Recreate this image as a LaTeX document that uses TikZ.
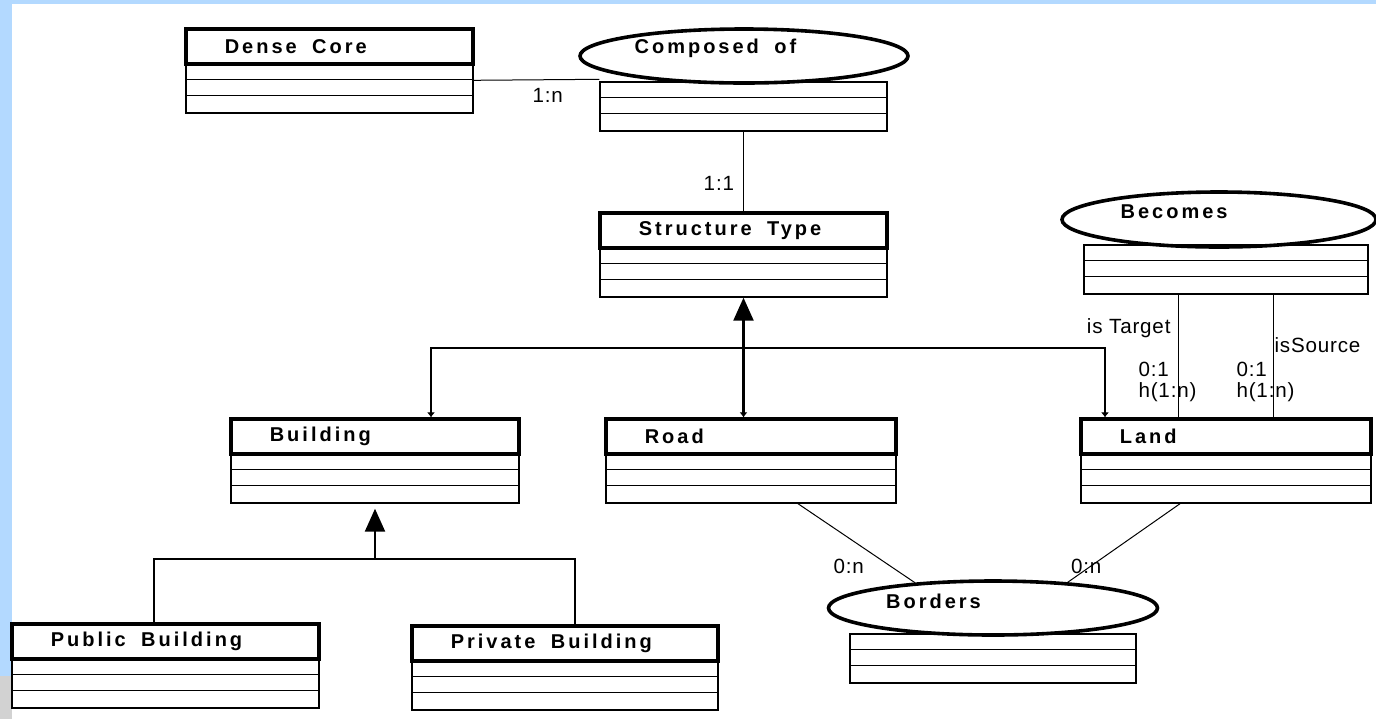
\documentclass[tikz,border=0pt]{standalone}
\usepackage{fontspec}
\setmainfont{Liberation Sans}
\newfontfamily\titlefont{Liberation Sans}[LetterSpace=15, WordSpace=1.8]
\usetikzlibrary{positioning,fit,calc,shapes.geometric,arrows.meta}
\definecolor{slideblue}{HTML}{B3D9FF}
\tikzset{headbox/.style={draw, line width=1.6pt, inner sep=0pt},
  rowbox/.style={draw, line width=0.7pt, inner sep=0pt},
  relation/.style={ellipse, draw, line width=1.8pt, inner sep=0pt},
  title/.style={font=\titlefont\bfseries\fontsize{10}{11}\selectfont, inner sep=0pt, anchor=west},
  card/.style={font=\fontsize{10.3}{10.5}\selectfont\addfontfeature{LetterSpace=4}, inner sep=0pt, align=left},
  assoc/.style={line width=0.5pt},
  isa/.style={line width=1.2pt},
  smalltip/.tip={Latex[length=2.5pt, width=4pt]},
  bigtip/.tip={Triangle[length=11.5pt, width=10pt]}}
\newcommand{\umlrows}[4]{%
  \node[rowbox, fit={(#2,#3) (#4,#3+49)}] (#1) {};
  \draw[rowbox] ([yshift=-8pt]#1.north west) -- ([yshift=-8pt]#1.north east);
  \draw[rowbox] ([yshift=-16pt]#1.north west) -- ([yshift=-16pt]#1.north east);}
\newcommand{\umlclass}[5]{%
  \node[headbox, fit={(#2,#3) (#4,#3+35)}] (#1) {};
  \node[title] (#1-title) at ([xshift=20pt]#1.west) {#5};
  \umlrows{#1-body}{#2}{#3+35}{#4}}

\begin{document}
\begin{tikzpicture}[x=0.5pt, y=-0.5pt]
    \useasboundingbox (0,0) rectangle (1376,719);
    \fill[slideblue] (0,0) rectangle (1376,719);
    \fill[gray!35] (0,676) rectangle (12,719);
    \fill[white] (12,4) rectangle (1376,719);

    \umlclass{dense}{186}{29}{473}{Dense Core}
    \umlclass{structure}{600}{213}{887}{Structure Type}
    \umlclass{building}{231}{419}{519}{Building}
    \umlclass{road}{606}{419}{896}{Road}
    \umlclass{land}{1081}{419}{1371}{Land}
    \umlclass{public}{12}{624}{319}{Public Building}
    \umlclass{private}{412}{626}{718}{Private Building}

    \node[relation, minimum width=164pt, minimum height=27pt] (composed) at (744,56) {};
    \node[title] (composed-title) at ([xshift=28pt, yshift=4pt]composed.west) {Composed of};
    \umlrows{composed-body}{600}{82}{887}
    \node[relation, minimum width=157pt, minimum height=27.5pt] (becomes) at (1219,219.5) {};
    \node[title] (becomes-title) at ([xshift=30pt, yshift=4pt]becomes.west) {Becomes};
    \umlrows{becomes-body}{1084}{245}{1368}
    \node[relation, minimum width=164.5pt, minimum height=27pt] (borders) at (993,608) {};
    \node[title] (borders-title) at ([xshift=29.5pt, yshift=3.5pt]borders.west) {Borders};
    \umlrows{borders-body}{850}{634}{1136}

    \draw[assoc] ($(dense-body.north east)+(0,17)$) -- ($(composed-body.north west)+(0,-2)$)
        node[card, pos=0.59, below=4pt] (c1) {1:n};
    \draw[assoc] (composed-body.south) -- (structure.north)
        node[card, pos=0.65, left=4.5pt] (c2) {1:1};

    \coordinate (stjoin) at ($(structure-body.south)+(0,50)$);
    \draw[isa, smalltip-bigtip] (road.north -| structure-body.south) -- (structure-body.south);
    \draw[isa, -smalltip] (stjoin) -| ([xshift=28pt]building.north);
    \draw[isa, -smalltip] (stjoin) -| ([xshift=-60.5pt]land.north);

    \coordinate (bjoin) at ($(building-body.south)+(0,55)$);
    \draw[isa, -bigtip, shorten >=2.5pt] (bjoin) -- (building-body.south);
    \draw[isa] ([xshift=-5.75pt]public.north) |- (bjoin) -| ([xshift=5pt]private.north);

    \draw[assoc] ([xshift=-24pt]becomes-body.south) -- ([xshift=-24pt]land.north)
        node[card, pos=0.27, left=3.5pt] (c3) {is Target}
        node[card, pos=0.71, anchor=west, xshift=-20pt] (c4) {0:1\\h(1:n)};
    \draw[assoc] ([xshift=23.5pt]becomes-body.south) -- ([xshift=23.5pt]land.north)
        node[card, pos=0.41, anchor=west, xshift=0.5pt] (c5) {isSource}
        node[card, pos=0.71, anchor=west, xshift=-18.5pt] (c6) {0:1\\h(1:n)};

    \draw[assoc] ([xshift=23.5pt]road-body.south) -- (borders.162)
        node[card, pos=0.8, left=13.5pt] (c7) {0:n};
    \draw[assoc] ([xshift=-23pt]land-body.south) -- (borders.19)
        node[card, pos=0.8, xshift=-2pt] (c8) {0:n};
\end{tikzpicture}
\end{document}
